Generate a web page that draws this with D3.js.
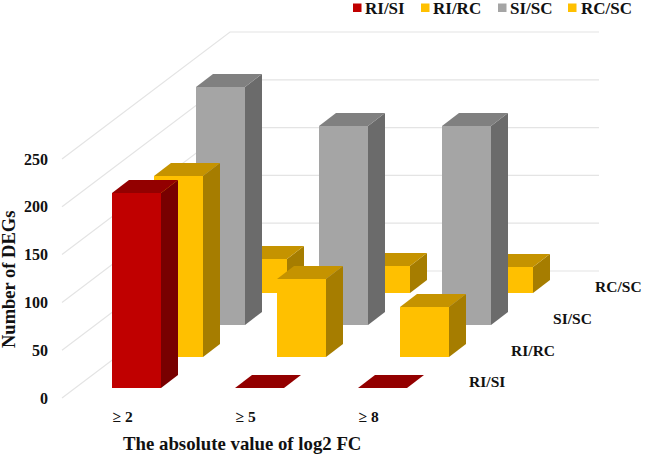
<!DOCTYPE html>
<html>
<head>
<meta charset="utf-8">
<script src="https://cdn.jsdelivr.net/npm/d3@7/dist/d3.min.js"></script>
<style>
html,body{margin:0;padding:0;background:#fff}
svg{display:block}
text{font-family:"Liberation Serif","Times New Roman",serif;font-weight:bold;fill:#111}
</style>
</head>
<body>
<div id="chart"></div>
<script>
const categories = ["≥ 2", "≥ 5", "≥ 8"];
const seriesNames = ["RI/SI", "RI/RC", "SI/SC", "RC/SC"];
const riSi = [204, 0, 0];
const riRc = [189, 81, 52];
const siSc = [249, 208, 208];
const rcSc = [36, 28, 27];
const seriesValues = [riSi, riRc, siSc, rcSc];
const yTicks = [0, 50, 100, 150, 200, 250];

const palette = [
  {front: "#C00000", top: "#930000", side: "#780000"},
  {front: "#FFC000", top: "#C59300", side: "#A67D00"},
  {front: "#A5A5A5", top: "#808080", side: "#6B6B6B"},
  {front: "#FFC000", top: "#C59300", side: "#A67D00"}
];

const W = 645, H = 457;
const svg = d3.select("#chart").append("svg").attr("width", W).attr("height", H);

const frontLeft = 62, frontRight = 431, depthW = 168, depthH = 127;
const x = d3.scaleBand().domain(categories).range([frontLeft, frontRight]).paddingInner(0.6).paddingOuter(0.3);
const y = d3.scaleLinear().domain([0, 250]).range([398, 159]);
const depthX = d3.scaleBand().domain(seriesNames).range([0, depthW]).paddingInner(0.6).paddingOuter(0.3);
const depthY = d3.scaleBand().domain(seriesNames).range([0, depthH]).paddingInner(0.6).paddingOuter(0.3);

// walls
const grid = svg.append("g").attr("fill", "none").attr("stroke", "#e4e4e4").attr("stroke-width", 1.2);
yTicks.forEach(t => {
  grid.append("path").attr("d", d3.line()([
    [frontLeft, y(t)],
    [frontLeft + depthW, y(t) - depthH],
    [frontRight + depthW, y(t) - depthH]
  ]));
});

// bars, back to front; edges snapped to whole pixels so nothing shows through the seams
const poly = pts => pts.map(p => p.join(",")).join(" ");
const barW = Math.round(x.bandwidth()), dw = Math.round(depthX.bandwidth()), dh = Math.round(depthY.bandwidth());
d3.range(seriesNames.length - 1, -1, -1).forEach(si => {
  const name = seriesNames[si];
  const g = svg.append("g").attr("class", "series");
  categories.forEach((c, ci) => {
    const v = seriesValues[si][ci];
    const x0 = Math.round(x(c) + depthX(name)), x1 = x0 + barW;
    const yb = Math.round(y(0) - depthY(name)), yt = Math.round(y(v) - depthY(name));
    g.append("polygon").attr("fill", palette[si].side)
      .attr("points", poly([[x1, yb], [x1 + dw, yb - dh], [x1 + dw, yt - dh], [x1, yt]]));
    g.append("polygon").attr("fill", palette[si].top)
      .attr("points", poly([[x0, yt], [x1, yt], [x1 + dw, yt - dh], [x0 + dw, yt - dh]]));
    g.append("rect").attr("fill", palette[si].front)
      .attr("x", x0).attr("y", yt).attr("width", barW).attr("height", yb - yt);
  });
});

// y tick labels
svg.append("g").selectAll("text").data(yTicks).join("text")
  .attr("x", 48).attr("y", d => y(d) + 5.5)
  .attr("text-anchor", "end").attr("font-size", 16).text(d => d);

// category labels
svg.append("g").selectAll("text").data(categories).join("text")
  .attr("x", d => x(d) + depthX(seriesNames[0]) + 1).attr("y", 422)
  .attr("font-size", 15.5).text(d => d);

// depth (series) labels
svg.append("g").selectAll("text").data(seriesNames).join("text")
  .attr("x", d => frontRight + 25.5 + depthX(d)).attr("y", d => y(0) - depthY(d) - 1)
  .attr("font-size", 15.5).text(d => d);

// axis titles
svg.append("text").attr("x", 123).attr("y", 450).attr("font-size", 18.8)
  .text("The absolute value of log2 FC");
svg.append("text").attr("transform", "translate(15,348) rotate(-90)").attr("font-size", 18.5)
  .text("Number of DEGs");

// legend
const legendSwatchX = [353, 421, 498, 568];
const legendTextX = [365, 433, 510, 581];
const legend = svg.append("g");
seriesNames.forEach((n, i) => {
  legend.append("rect").attr("x", legendSwatchX[i]).attr("y", 3.5).attr("width", 8.5).attr("height", 8.5)
    .attr("fill", palette[i].front);
  legend.append("text").attr("x", legendTextX[i]).attr("y", 14).attr("font-size", 17).text(n);
});
</script>
</body>
</html>
